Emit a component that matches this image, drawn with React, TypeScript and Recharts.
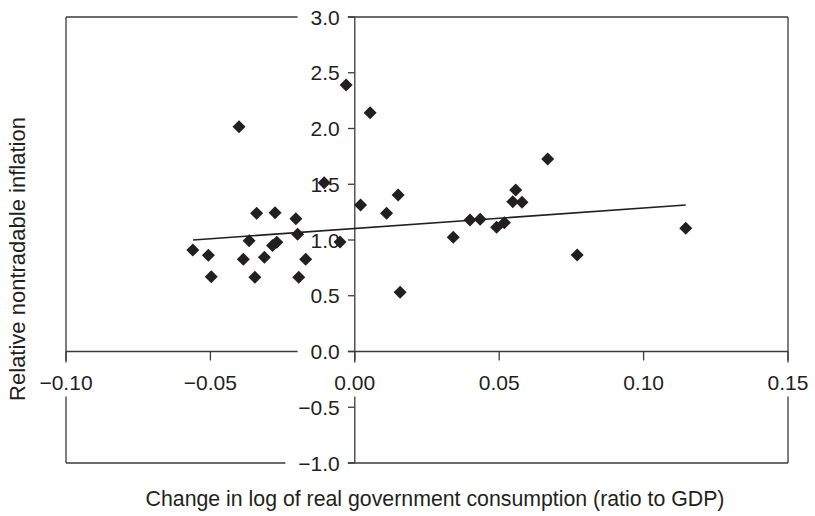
import React from 'react';
import { ScatterChart, Scatter, XAxis, YAxis, ReferenceLine } from 'recharts';

// government consumption change (x) vs relative nontradable inflation (y)
const xValues = [
  -0.0561, -0.0507, -0.0497, -0.034, -0.0276, -0.0204, -0.0366, -0.027, -0.0285,
  -0.0198, -0.0386, -0.0313, -0.017, -0.0346, -0.0194, -0.0106, -0.0051, -0.0401,
  -0.003, 0.0053, 0.002, 0.011, 0.015, 0.0157, 0.0668, 0.0557, 0.0547, 0.0579,
  0.0399, 0.0434, 0.0491, 0.0518, 0.0341, 0.077, 0.1146
];
const yValues = [
  0.91, 0.863, 0.671, 1.239, 1.245, 1.191, 0.994, 0.98, 0.95,
  1.051, 0.827, 0.845, 0.827, 0.665, 0.665, 1.514, 0.982, 2.016,
  2.39, 2.142, 1.314, 1.239, 1.404, 0.531, 1.726, 1.448, 1.344, 1.338,
  1.179, 1.185, 1.114, 1.155, 1.024, 0.865, 1.105
];
const trendX = [-0.056, 0.1146];
const trendY = [1.0, 1.314];
const xTicks = [-0.1, -0.05, 0, 0.05, 0.1, 0.15];
const yTicks = [-1, -0.5, 0, 0.5, 1, 1.5, 2, 2.5, 3];

const points = xValues.map((x, i) => ({ x, y: yValues[i] }));
const trend = trendX.map((x, i) => ({ x, y: trendY[i] }));

const WIDTH = 815;
const HEIGHT = 516;
const LEFT = 66;
const BOTTOM = 53;
const MARGIN = { top: 17, right: 27, bottom: 0, left: 0 };
const X_DOMAIN: [number, number] = [-0.1, 0.15];
const Y_DOMAIN: [number, number] = [-1, 3];
const plotW = WIDTH - LEFT - MARGIN.right;
const plotH = HEIGHT - MARGIN.top - BOTTOM;
const zeroX = LEFT + (plotW * (0 - X_DOMAIN[0])) / (X_DOMAIN[1] - X_DOMAIN[0]);
const zeroY = MARGIN.top + (plotH * (Y_DOMAIN[1] - 0)) / (Y_DOMAIN[1] - Y_DOMAIN[0]);

const INK = '#231f20';
const LINE = '#3a3a3a';
const FONT = '"Liberation Sans", Arial, sans-serif';
const FS = 21;

const fmt = (v: number, digits: number) => {
  const s = Math.abs(v).toFixed(digits);
  return v < 0 ? '\u2212' + s : s;
};

// rough text width for the white label backgrounds
const textW = (s: string) =>
  s.split('').reduce((w, c) => w + (c === '.' ? 0.278 : c === '\u2212' ? 0.584 : 0.556), 0) * FS;

const XTick = (props: any) => {
  const { x, payload } = props;
  const label = fmt(payload.value, 2);
  const w = textW(label) + 10;
  return (
    <g>
      <line x1={x} x2={x} y1={zeroY} y2={zeroY + 9} stroke={LINE} strokeWidth={1.3} />
      <rect x={x - w / 2} y={zeroY + 11} width={w} height={34} fill="#fff" />
      <text x={x} y={zeroY + 38} textAnchor="middle" fontFamily={FONT} fontSize={FS} fill={INK}>
        {label}
      </text>
    </g>
  );
};

const YTick = (props: any) => {
  const { y, payload } = props;
  const label = fmt(payload.value, 1);
  const w = textW(label) + 13 + 8;
  return (
    <g>
      <line x1={zeroX - 7} x2={zeroX} y1={y} y2={y} stroke={LINE} strokeWidth={1.3} />
      <rect x={zeroX - 7 - w} y={y - 11} width={w} height={22} fill="#fff" />
      <text x={zeroX - 15} y={y + 7.5} textAnchor="end" fontFamily={FONT} fontSize={FS} fill={INK}>
        {label}
      </text>
    </g>
  );
};

const Diamond = (props: any) => {
  const { cx, cy } = props;
  const r = 6.5;
  return <path d={`M${cx},${cy - r}L${cx + r},${cy}L${cx},${cy + r}L${cx - r},${cy}Z`} fill={INK} />;
};

const NoDot = () => <g />;

export default function App() {
  return (
    <div style={{ width: WIDTH, height: HEIGHT, background: '#fff' }}>
      <style>{'body{margin:0}'}</style>
      <ScatterChart width={WIDTH} height={HEIGHT} margin={MARGIN}>
        {/* frame */}
        <ReferenceLine x={X_DOMAIN[0]} stroke={LINE} strokeWidth={1.3} />
        <ReferenceLine x={X_DOMAIN[1]} stroke={LINE} strokeWidth={1.3} />
        <ReferenceLine y={Y_DOMAIN[0]} stroke={LINE} strokeWidth={1.3} />
        <ReferenceLine y={Y_DOMAIN[1]} stroke={LINE} strokeWidth={1.3} />
        {/* axes crossing at the origin */}
        <ReferenceLine y={0} stroke={LINE} strokeWidth={1.3} />
        <ReferenceLine x={0} stroke={LINE} strokeWidth={1.3} />
        <XAxis
          dataKey="x"
          type="number"
          domain={X_DOMAIN}
          ticks={xTicks}
          interval={0}
          allowDataOverflow
          height={BOTTOM}
          axisLine={false}
          tickLine={false}
          tick={XTick}
          zIndex={500}
          label={{
            content: () => (
              <text x={435} y={506} textAnchor="middle" fontFamily={FONT} fontSize={21.3} fill={INK}>
                Change in log of real government consumption (ratio to GDP)
              </text>
            )
          }}
        />
        <YAxis
          dataKey="y"
          type="number"
          domain={Y_DOMAIN}
          ticks={yTicks}
          interval={0}
          allowDataOverflow
          width={LEFT}
          axisLine={false}
          tickLine={false}
          tick={YTick}
          zIndex={500}
          label={{
            content: () => (
              <text
                x={25}
                y={259}
                transform="rotate(-90 25 259)"
                textAnchor="middle"
                fontFamily={FONT}
                fontSize={22}
                fill={INK}
              >
                Relative nontradable inflation
              </text>
            )
          }}
        />
        <Scatter
          data={trend}
          line={{ stroke: INK, strokeWidth: 1.6 }}
          shape={NoDot}
          zIndex={3000}
          isAnimationActive={false}
        />
        <Scatter data={points} shape={Diamond} zIndex={3000} isAnimationActive={false} />
      </ScatterChart>
    </div>
  );
}
